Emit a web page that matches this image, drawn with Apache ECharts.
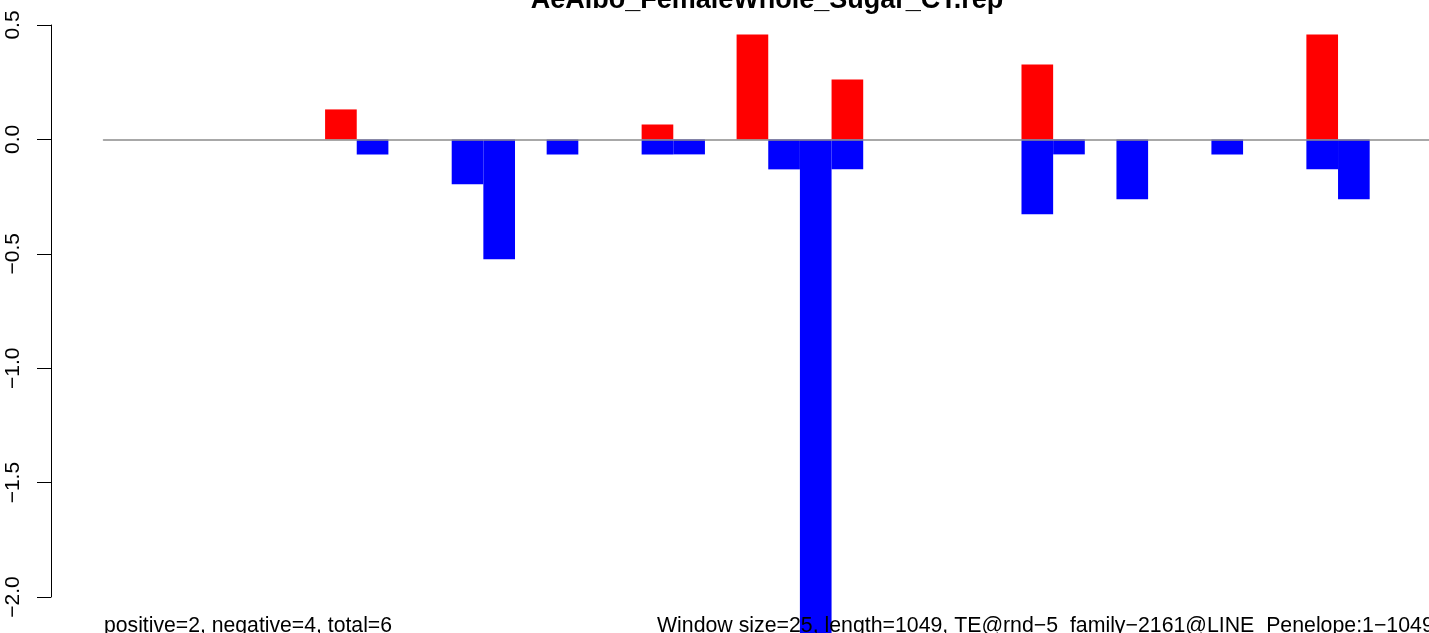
<!DOCTYPE html>
<html><head><meta charset="utf-8">
<script src="https://cdn.jsdelivr.net/npm/echarts@6/dist/echarts.min.js"></script>
<style>html,body{margin:0;padding:0;background:#fff;overflow:hidden}#c{width:1429px;height:633px}</style>
</head><body><div id="c"></div>
<script>
const titleText = 'AeAlbo_FemaleWhole_Sugar_CT.rep';
const leftNote = 'positive=2, negative=4, total=6';
const rightNote = 'Window size=25, length=1049, TE@rnd\u22125_family\u22122161@LINE_Penelope:1\u22121049';
const categories = ['1','2','3','4','5','6','7','8','9','10','11','12','13','14','15','16','17','18','19','20','21',
  '22','23','24','25','26','27','28','29','30','31','32','33','34','35','36','37','38','39','40','41','42'];
const positiveValues = [0,0,0,0,0,0,0,0.131,0,0,0,0,0,0,0,0,0,0.0655,0,0,0.4585,0,0,0.262,0,0,0,0,0,0.3275,0,0,0,0,0,0,0,0,0.4585,0,0,0];
const negativeValues = [0,0,0,0,0,0,0,0,-0.0655,0,0,-0.1965,-0.524,0,-0.0655,0,0,-0.0655,-0.0655,0,0,-0.131,-2.36,-0.131,0,0,0,0,0,-0.3275,-0.0655,0,-0.262,0,0,-0.0655,0,0,-0.131,-0.262,0,0];
const yTicks = {min: -2.0, max: 0.5, interval: 0.5};

const chart = echarts.init(document.getElementById('c'), null, {renderer: 'canvas'});
const FONT = '"Liberation Sans", Arial, sans-serif';
chart.setOption({
  animation: false,
  backgroundColor: '#ffffff',
  grid: {left: 103.5, top: 25, width: 1329.5, height: 572, containLabel: false, outerBoundsMode: 'none'},
  xAxis: {
    type: 'category', data: categories, boundaryGap: true, z: 5,
    axisLine: {show: true, onZero: true, lineStyle: {color: '#8c8c8c', width: 1.5}},
    axisTick: {show: false}, axisLabel: {show: false}, splitLine: {show: false}
  },
  yAxis: {
    type: 'value', min: yTicks.min, max: yTicks.max, interval: yTicks.interval, offset: 52.5,
    axisLine: {show: true, lineStyle: {color: '#000', width: 1}},
    axisTick: {show: true, length: 14, lineStyle: {color: '#000', width: 1}},
    splitLine: {show: false},
    axisLabel: {rotate: 90, margin: 27, color: '#000', fontSize: 21, fontFamily: FONT,
      formatter: v => v.toFixed(1).replace('-', '\u2212')}
  },
  series: [
    {type: 'bar', data: positiveValues, barCategoryGap: '0%', barGap: '-100%', clip: false,
     itemStyle: {color: '#ff0000'}, silent: true},
    {type: 'bar', data: negativeValues, barCategoryGap: '0%', barGap: '-100%', clip: false,
     itemStyle: {color: '#0000ff'}, silent: true}
  ],
  graphic: [
    {type: 'text', z: 100, x: 767, y: 14, style: {text: titleText, font: 'bold 27px ' + FONT, fill: '#000', textAlign: 'center', textVerticalAlign: 'bottom'}},
    {type: 'text', z: 100, x: 104, y: 637, style: {text: leftNote, font: '21.2px ' + FONT, fill: '#000', textAlign: 'left', textVerticalAlign: 'bottom'}},
    {type: 'text', z: 100, x: 657, y: 637, style: {text: rightNote, font: '21.3px ' + FONT, fill: '#000', textAlign: 'left', textVerticalAlign: 'bottom'}}
  ]
});
</script></body></html>
